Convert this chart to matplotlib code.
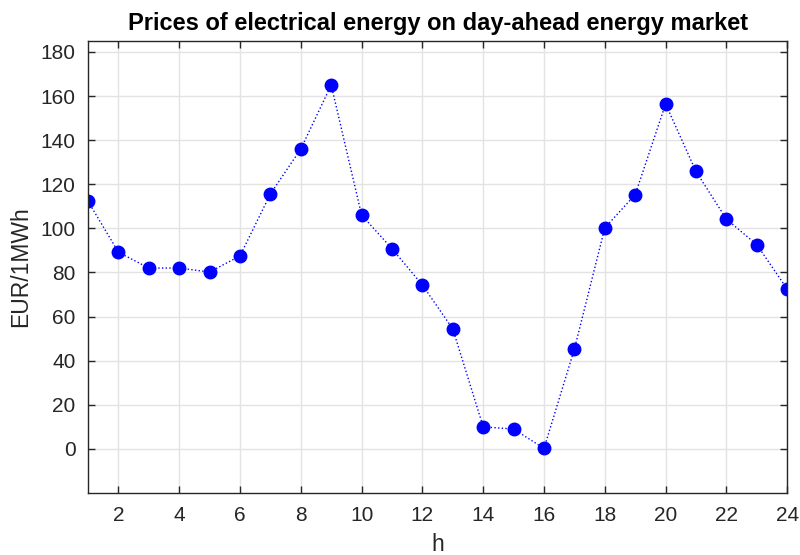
import matplotlib
matplotlib.use("Agg")
import matplotlib.pyplot as plt

# hourly day-ahead prices
hours = list(range(1, 25))
prices = [112.3, 89.2, 82.0, 82.0, 80.2, 87.5, 115.6, 136.0, 165.0, 106.0,
          90.8, 74.3, 54.4, 10.0, 9.0, 0.2, 45.3, 100.2, 115.3, 156.4,
          125.8, 104.2, 92.6, 72.5]

plt.rcParams['font.family'] = ['Liberation Sans', 'DejaVu Sans']

fig = plt.figure(figsize=(8, 5.55), dpi=100)
ax = fig.add_axes([0.11, 0.1117, 0.874, 0.8146])

ax.plot(hours, prices, linestyle=':', color='#0000ff', linewidth=1.0,
        marker='o', markersize=9, markerfacecolor='#0000ff', markeredgecolor='#0000ff')

ax.set_xlim(1, 24)
ax.set_ylim(-20, 185)
ax.set_xticks(range(2, 25, 2))
ax.set_yticks(range(0, 181, 20))

ax.grid(True, color='#e3e3e3', linewidth=1.0)
ax.set_axisbelow(True)
for s in ax.spines.values():
    s.set_color('#262626')
    s.set_linewidth(1.0)
ax.tick_params(direction='in', top=True, right=True, length=5, width=1.0,
               colors='#262626', labelsize=15, pad=9)

ax.set_xlabel('h', fontsize=16.5, color='#262626', labelpad=6)
ax.set_ylabel('EUR/1MWh', fontsize=16.5, color='#262626', labelpad=6)
ax.set_title('Prices of electrical energy on day-ahead energy market',
             fontsize=17, fontweight='bold', color='black', pad=8)

fig.savefig('out.png', dpi=100)
